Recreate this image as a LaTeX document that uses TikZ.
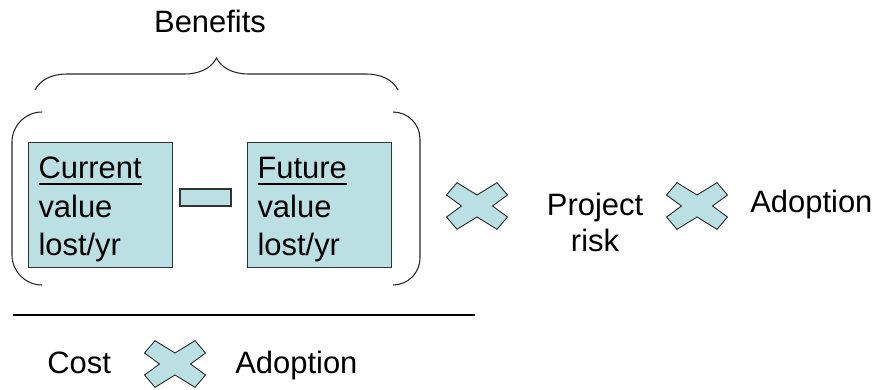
\documentclass[tikz,border=0pt]{standalone}
\usepackage{fontspec}
\setmainfont{Liberation Sans}
\usetikzlibrary{positioning, decorations.pathreplacing}
\definecolor{paleblue}{RGB}{187,224,227}
\newcommand{\ulword}[1]{\setbox0\hbox{#1}\rlap{\rule[-3.4pt]{\wd0}{1.1pt}}\box0}

\tikzset{
  label text/.style={font=\fontsize{17.6}{20.4}\selectfont, inner sep=0pt},
  value box/.style={label text, font=\fontsize{17.6}{21.9}\selectfont, draw=black!80, fill=paleblue,
    line width=0.6pt, align=left, text width=2.48cm, inner xsep=0.2cm, minimum height=2.5cm, anchor=north west,
    execute at begin node=\rule{0pt}{1em}},
  crossmark/.pic={
    \draw[fill=paleblue, draw=black!85, line width=0.5pt]
      (-0.61,0.22) -- (-0.40,0.466) -- (0,0.22) -- (0.40,0.466) -- (0.61,0.22) -- (0.31,0)
      -- (0.61,-0.22) -- (0.40,-0.466) -- (0,-0.22) -- (-0.40,-0.466) -- (-0.61,-0.22) -- (-0.31,0) -- cycle;
  }
}

\begin{document}
\begin{tikzpicture}
  \useasboundingbox (0,0) rectangle (17.58,-7.8);

  % benefits part
  \node[label text, anchor=base] (benefits) at (4.2,-0.66) {Benefits};
  \draw[black!85, line width=0.6pt, decorate, decoration={brace, amplitude=0.64cm}] (0.7,-1.8) -- (7.96,-1.8);
  \draw[black!85, line width=0.6pt, rounded corners=0.6cm] (0.84,-2.24) -- (0.24,-2.24) -- (0.24,-5.7) -- (0.84,-5.7);
  \draw[black!85, line width=0.6pt, rounded corners=0.54cm] (7.86,-2.24) -- (8.4,-2.24) -- (8.4,-5.7) -- (7.86,-5.7);
  \node[value box] (current) at (0.56,-2.84) {\ulword{Current}\\value\\lost/yr};
  \node[value box] (future) at (4.94,-2.84) {\ulword{Future}\\value\\lost/yr};
  \node[draw=black!80, fill=paleblue, line width=0.6pt, minimum width=1.02cm, minimum height=0.34cm, inner sep=0pt] (minus) at (4.11,-3.95) {};

  % times risk times adoption
  \pic (xrisk) at (9.54,-4.12) {crossmark};
  \node[label text, align=center, anchor=north] (risk) at (11.9,-3.86) {Project\\risk};
  \pic (xadopt) at (13.94,-4.12) {crossmark};
  \node[label text, anchor=base west] (adopt) at (15.0,-4.26) {Adoption};

  % divided by cost times adoption
  \draw[line width=1.7pt] (0.26,-6.3) -- (9.5,-6.3);
  \node[label text, anchor=base west] (cost) at (0.94,-7.46) {Cost};
  \pic (xcost) at (3.5,-7.28) {crossmark};
  \node[label text, anchor=base west] (costadopt) at (4.7,-7.46) {Adoption};
\end{tikzpicture}
\end{document}
